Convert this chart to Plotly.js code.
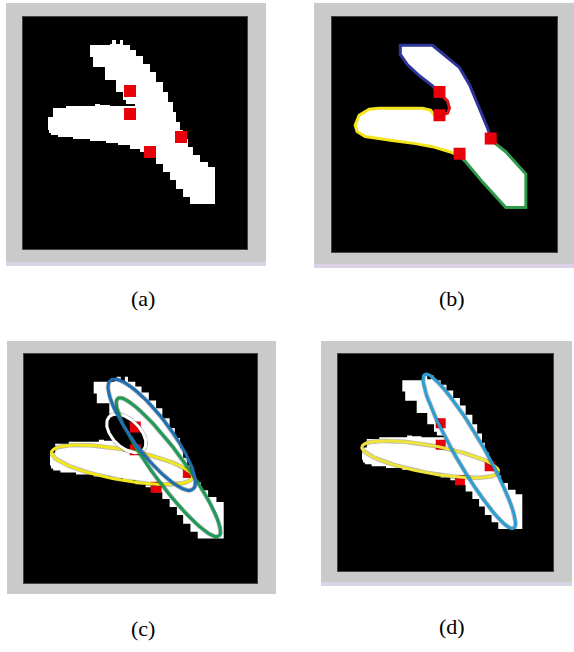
<!DOCTYPE html>
<html><head><meta charset="utf-8">
<script src="https://cdn.plot.ly/plotly-3.0.1.min.js"></script>
<style>html,body{margin:0;padding:0;background:#fff;}#chart{width:574px;height:652px;}</style>
</head><body><div id="chart"></div>
<script>
// ---- data (image units: the binary image is 224 x 232) ----
const silhouetteX = [67,87,89,92,93,95,97,99,100,107,113,120,127,133,140,145,150,153,157,160,165,170,177,185,192,192,174,167,160,153,147,140,133,127,117,107,95,83,67,50,35,28,26,25,30,43,67,72,77,87,100,113,118,112,103,100,93,82,70,67];
const silhouetteY = [28,27,23,23,27,27,23,23,28,33,39,47,55,65,75,85,95,105,113,122,130,138,145,150,155,187,187,180,172,163,155,147,140,135,132,128,126,124,122,120,118,116,113,100,91,89,89,87,88,89,89,90,90,87,83,75,63,50,40,33];
const keypointX = [107,107,158,127];
const keypointY = [74,97,120,135];

// panel (b): contour segments between key points
const blueSegX = [107,100,87,75,68,68,100,115,127,137,147,155,159];
const blueSegY = [75,68,58,47,37,28,28,40,50,67,90,110,122];
const greenSegX = [159,173,193,193,173,150,133,127];
const greenSegY = [122,133,155,188,188,163,143,137];
const yellowSegX = [127,117,100,83,60,33,25,23,27,37,47,67,90,98,102,107];
const yellowSegY = [137,133,128,125,122,118,113,107,97,91,90,90,90,92,97,97];
const redSegX = [107,115,117,115,107];
const redSegY = [97,95,90,83,75];

// panels (c) and (d): fitted ellipses
const ellipsePanel = ['c','c','c','c','d','d'];
const ellipseName  = ['yellow','white','green','blue','yellow','blue'];
const ellipseCx    = [94.2, 98.3, 138.8, 122.8, 96.1, 136.8];
const ellipseCy    = [112.2, 80.5, 114.8, 81.8, 112.6, 104.1];
const ellipseA     = [69, 23.5, 85, 68, 72.5, 94.5];
const ellipseB     = [15.5, 13.5, 15.5, 18, 14.8, 15];
const ellipseAngle = [10.8, 47, 55.2, 54.6, 10.6, 60.6];

const panelLabels = ['(a)','(b)','(c)','(d)'];

// ---- layout geometry (pixels) ----
const W = 574, H = 652;
const panels = [
  {id:'a', img:[23,17,247,249], frame:[6,3,266,266], lav:true,  label:[143,298], ms:12},
  {id:'b', img:[332,17,557,252], frame:[314,3,574,268], lav:true, label:[452,298], ms:12},
  {id:'c', img:[24,354,257,583], frame:[7,341,276,594], lav:false, label:[143,628], ms:11},
  {id:'d', img:[338,354,553,571], frame:[321,341,572,586], lav:true, label:[452,626], ms:10}
];
const ellColors = {c:{yellow:'#f2e61c', white:'#ffffff', green:'#1d9a55', blue:'#1f6fb2'},
                   d:{yellow:'#eee43a', blue:'#2b9fd4'}};
const ellInteriorBlack = {white:true};

function ellipsePts(cx, cy, a, b, angDeg){
  const th = angDeg*Math.PI/180, xs=[], ys=[];
  for(let i=0;i<=120;i++){
    const t = 2*Math.PI*i/120;
    const u = a*Math.cos(t), v = b*Math.sin(t);
    xs.push(cx + u*Math.cos(th) - v*Math.sin(th));
    ys.push(cy + u*Math.sin(th) + v*Math.cos(th));
  }
  return [xs, ys];
}

const traces = [], shapes = [], annotations = [];
const layout = {
  width: W, height: H, margin:{l:0,r:0,t:0,b:0},
  paper_bgcolor:'#ffffff', plot_bgcolor:'rgba(0,0,0,0)', showlegend:false,
  font:{family:'Liberation Serif, serif'}
};

panels.forEach((p, i) => {
  const n = i+1, xa = 'x'+(n>1?n:''), ya = 'y'+(n>1?n:'');
  const [x0,y0,x1,y1] = p.img;
  layout['xaxis'+(n>1?n:'')] = {domain:[x0/W, x1/W], range:[0,224], visible:false, fixedrange:true, anchor:ya};
  layout['yaxis'+(n>1?n:'')] = {domain:[1-y1/H, 1-y0/H], range:[232,0], visible:false, fixedrange:true, anchor:xa};
  const [fx0,fy0,fx1,fy1] = p.frame;
  shapes.push({type:'rect', xref:'paper', yref:'paper', layer:'below', x0:fx0/W, x1:fx1/W, y0:1-fy1/H, y1:1-fy0/H, fillcolor:'#cacaca', line:{width:0}});
  if(p.lav) shapes.push({type:'rect', xref:'paper', yref:'paper', layer:'below', x0:fx0/W, x1:fx1/W, y0:1-fy1/H, y1:1-(fy1-4)/H, fillcolor:'#dcd2e6', line:{width:0}});
  shapes.push({type:'rect', xref:'paper', yref:'paper', layer:'below', x0:(x0-1)/W, x1:(x1+1)/W, y0:1-(y1+1)/H, y1:1-(y0-1)/H, fillcolor:'#444444', line:{width:0}});
  shapes.push({type:'rect', xref:'paper', yref:'paper', layer:'below', x0:x0/W, x1:x1/W, y0:1-y1/H, y1:1-y0/H, fillcolor:'#000000', line:{width:0}});

  if(p.id === 'b'){
    const fx = blueSegX.concat(greenSegX, yellowSegX, redSegX);
    const fy = blueSegY.concat(greenSegY, yellowSegY, redSegY);
    traces.push({type:'scatter', mode:'lines', x:fx, y:fy, xaxis:xa, yaxis:ya, fill:'toself', fillcolor:'#ffffff', line:{width:0, color:'#ffffff'}, hoverinfo:'skip'});
    [[blueSegX,blueSegY,'#2e3598'],[greenSegX,greenSegY,'#2f9a4c'],[yellowSegX,yellowSegY,'#f4e41c'],[redSegX,redSegY,'#e01818']].forEach(s=>{
      traces.push({type:'scatter', mode:'lines', x:s[0], y:s[1], xaxis:xa, yaxis:ya, line:{width:3, color:s[2]}, hoverinfo:'skip'});
    });
  } else {
    traces.push({type:'scatter', mode:'lines', x:silhouetteX, y:silhouetteY, xaxis:xa, yaxis:ya, fill:'toself', fillcolor:'#ffffff', line:{width:0, color:'#ffffff', shape:'hv'}, hoverinfo:'skip'});
  }

  const ell = [];
  ellipsePanel.forEach((pp, k) => { if(pp === p.id) ell.push(k); });
  // black interior (the gap between the arms seen through the small ellipse)
  ell.forEach(k => {
    if(!ellInteriorBlack[ellipseName[k]]) return;
    const [ex, ey] = ellipsePts(ellipseCx[k], ellipseCy[k], ellipseA[k], ellipseB[k], ellipseAngle[k]);
    traces.push({type:'scatter', mode:'lines', x:ex, y:ey, xaxis:xa, yaxis:ya, fill:'toself', fillcolor:'#000000', line:{width:0, color:'#000'}, hoverinfo:'skip'});
  });

  traces.push({type:'scatter', mode:'markers', x:keypointX, y:keypointY, xaxis:xa, yaxis:ya, marker:{symbol:'square', size:p.ms, color:'#e8000b', line:{width:0}}, hoverinfo:'skip'});

  ell.forEach(k => {
    const [ex, ey] = ellipsePts(ellipseCx[k], ellipseCy[k], ellipseA[k], ellipseB[k], ellipseAngle[k]);
    traces.push({type:'scatter', mode:'lines', x:ex, y:ey, xaxis:xa, yaxis:ya, line:{width:4.5, color:'rgba(20,20,20,0.3)'}, hoverinfo:'skip'});
    traces.push({type:'scatter', mode:'lines', x:ex, y:ey, xaxis:xa, yaxis:ya, line:{width:3, color:ellColors[p.id][ellipseName[k]]}, hoverinfo:'skip'});
  });

  annotations.push({xref:'paper', yref:'paper', x:p.label[0]/W, y:1-p.label[1]/H, xanchor:'center', yanchor:'middle', showarrow:false, text:panelLabels[i], font:{family:'Liberation Serif, Times New Roman, serif', size:22, color:'#000'}});
});

layout.shapes = shapes;
layout.annotations = annotations;
Plotly.newPlot('chart', traces, layout, {staticPlot:true, displayModeBar:false});
</script></body></html>
